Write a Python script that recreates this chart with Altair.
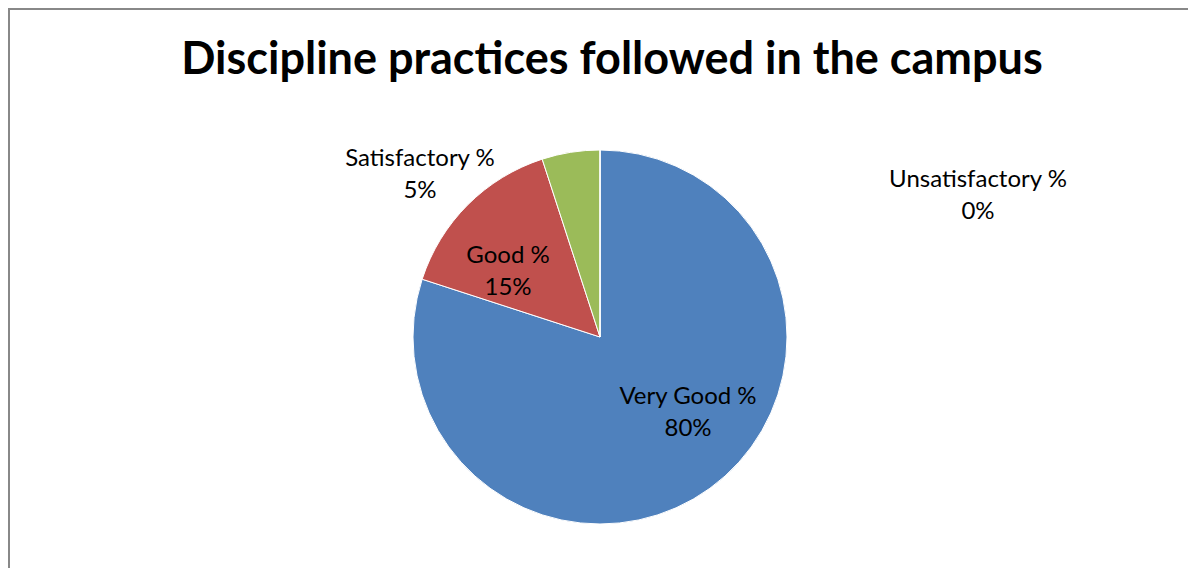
import altair as alt
import pandas as pd

# ---- data ----
categories = ["Very Good %", "Good %", "Satisfactory %", "Unsatisfactory %"]
values = [80, 15, 5, 0]
colors = ["#4F81BD", "#C0504D", "#9BBB59", "#8064A2"]
title_text = "Discipline practices followed in the campus"

# ---- layout (chart pixel coordinates) ----
W, H = 1180, 560
CX, CY, R = 592, 329, 187
# label block centres, relative to pie centre
label_offsets = {
    "Very Good %": (88, 60),
    "Good %": (-92, -81),
    "Satisfactory %": (-180, -178),
    "Unsatisfactory %": (378, -157),
}
FONT = "Lato"

df = pd.DataFrame({
    "category": categories,
    "value": values,
    "idx": list(range(len(categories))),
})
df["label"] = df["category"] + "\n" + df["value"].astype(str) + "%"
df["lx"] = [CX + label_offsets[c][0] for c in categories]
df["ly"] = [CY + label_offsets[c][1] for c in categories]

base = alt.Chart(df)

pie = base.mark_arc(outerRadius=R, stroke="white", strokeWidth=1).encode(
    theta=alt.Theta("value:Q", stack=True),
    order=alt.Order("idx:Q"),
    color=alt.Color("category:N", scale=alt.Scale(domain=categories, range=colors), legend=None),
    x=alt.value(CX),
    y=alt.value(CY),
)

labels = base.mark_text(
    font=FONT, fontSize=24, lineBreak="\n", lineHeight=32,
    align="center", baseline="middle", color="black",
).encode(
    x=alt.X("lx:Q", scale=None),
    y=alt.Y("ly:Q", scale=None),
    text="label:N",
)

title_df = pd.DataFrame({"t": [title_text]})
title = alt.Chart(title_df).mark_text(
    font=FONT, fontSize=45, fontWeight="bold", align="center", baseline="alphabetic", color="black",
).encode(x=alt.value(604), y=alt.value(66), text="t:N")

border_df = pd.DataFrame({"k": [0]})
left_border = alt.Chart(border_df).mark_rule(color="#888888", strokeWidth=2).encode(
    x=alt.value(1), y=alt.value(0), y2=alt.value(H)
)
top_border = alt.Chart(border_df).mark_rule(color="#888888", strokeWidth=2).encode(
    x=alt.value(0), x2=alt.value(W), y=alt.value(1)
)

chart = alt.layer(pie, labels, title, left_border, top_border).properties(
    width=W, height=H, autosize=alt.AutoSizeParams(type="none"), padding=0,
    background="white",
).configure_view(strokeOpacity=0, strokeWidth=0)

chart.save("out.html", embed_options={"renderer": "svg", "actions": False})
